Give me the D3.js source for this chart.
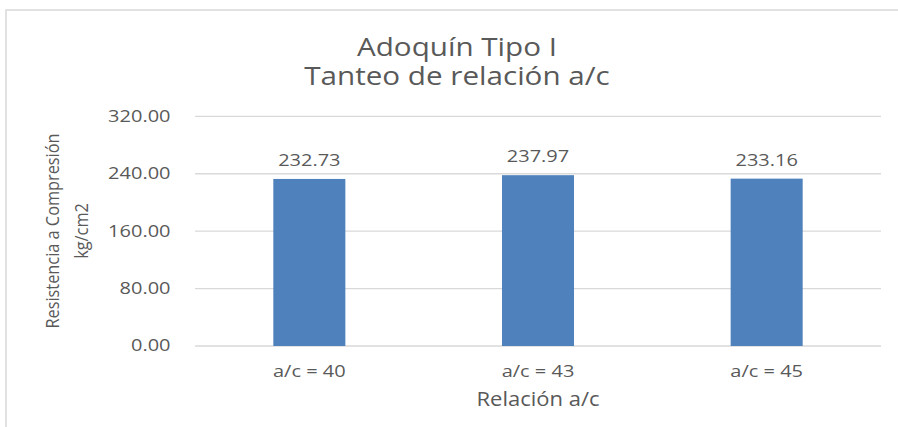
<!DOCTYPE html>
<html>
<head>
<meta charset="utf-8">
<script src="https://cdn.jsdelivr.net/npm/d3@7"></script>
<style>
  html, body { margin: 0; padding: 0; background: #ffffff; }
  svg { display: block; }
  text { font-family: "Open Sans", sans-serif; fill: #595959; }
</style>
</head>
<body>
<svg id="chart" width="898" height="427"></svg>
<script>
// ---- data ----
const categories = ["a/c = 40", "a/c = 43", "a/c = 45"];
const values = [232.73, 237.97, 233.16];
const yTicks = [0, 80, 160, 240, 320];
const titleLines = ["Adoquín Tipo I", "Tanteo de relación a/c"];
const yTitleLines = ["Resistencia a Compresión", "kg/cm2"];
const xTitle = "Relación a/c";

// ---- layout ----
const W = 898, H = 427;
const plot = { left: 195, right: 881, top: 116.3, bottom: 346 };
const SX_SMALL = 1.29;
const svg = d3.select("#chart");

// chart frame (left and top edges visible)
svg.append("path")
  .attr("d", `M6,${H} L6,10 L${W},10`)
  .attr("fill", "none")
  .attr("stroke", "#d9d9d9")
  .attr("stroke-width", 1.5);

const x = d3.scaleBand()
  .domain(categories)
  .range([plot.left, plot.right])
  .paddingInner(0.685)
  .paddingOuter(0.3425);

const y = d3.scaleLinear()
  .domain([0, 320])
  .range([plot.bottom, plot.top]);

function stretchedText(g, tx, ty, str, size, sx, anchor) {
  return g.append("text")
    .attr("transform", `translate(${tx},${ty}) scale(${sx},1)`)
    .attr("text-anchor", anchor)
    .style("font-size", size + "px")
    .text(str);
}

// gridlines
const yAxis = d3.axisLeft(y).tickValues(yTicks).tickSize(0).tickFormat(d3.format(".2f"));
const grid = svg.append("g");
grid.selectAll("line")
  .data(yTicks)
  .join("line")
  .attr("x1", plot.left)
  .attr("x2", plot.right)
  .attr("y1", d => y(d))
  .attr("y2", d => y(d))
  .attr("stroke", "#d9d9d9")
  .attr("stroke-width", 1.3);

// y tick labels
const yt = svg.append("g");
yTicks.forEach(t => {
  stretchedText(yt, 170.5, y(t) + 5.4, yAxis.tickFormat()(t), 15.5, SX_SMALL, "end");
});

// bars
svg.append("g")
  .selectAll("rect")
  .data(values)
  .join("rect")
  .attr("x", (d, i) => x(categories[i]))
  .attr("width", x.bandwidth())
  .attr("y", d => y(d))
  .attr("height", d => y(0) - y(d))
  .attr("fill", "#4f81bd");

// data labels
const dl = svg.append("g");
values.forEach((v, i) => {
  stretchedText(dl, x(categories[i]) + x.bandwidth() / 2, y(v) - 13, v.toFixed(2), 15.5, SX_SMALL, "middle");
});

// category labels
const cl = svg.append("g");
categories.forEach(c => {
  stretchedText(cl, x(c) + x.bandwidth() / 2, 376.5, c, 15.5, SX_SMALL, "middle");
});

// title (two lines)
const tg = svg.append("g");
stretchedText(tg, 457, 56, titleLines[0], 26, 1.14, "middle");
stretchedText(tg, 457, 85, titleLines[1], 26, 1.14, "middle");

// x axis title
stretchedText(svg.append("g"), (plot.left + plot.right) / 2, 406, xTitle, 20, 1.1, "middle");

// y axis title (rotated, one text element, two lines)
const ytitle = svg.append("text")
  .attr("transform", `translate(59,231) rotate(-90) scale(0.96,1.08)`)
  .attr("text-anchor", "middle")
  .style("font-size", "17px");
yTitleLines.forEach((t, i) => {
  ytitle.append("tspan")
    .attr("x", 0)
    .attr("dy", i === 0 ? 0 : 26.5)
    .text(t);
});
</script>
</body>
</html>
